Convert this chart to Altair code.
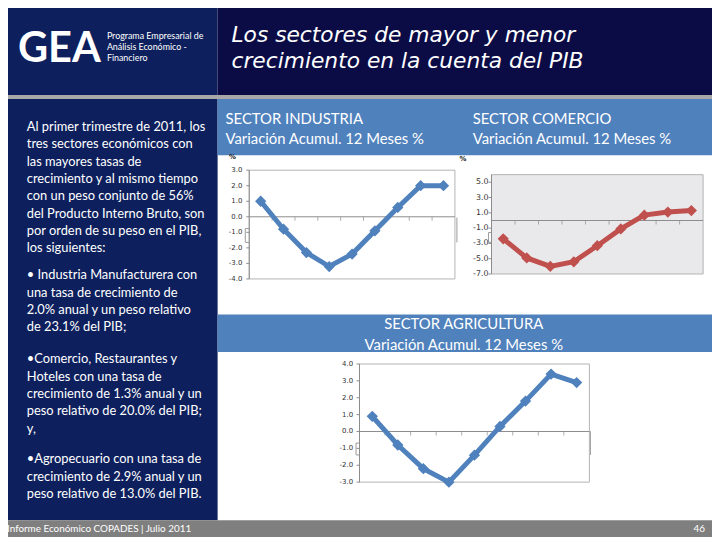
import altair as alt
import pandas as pd

# ---------------- data ----------------
industria = [1.0, -0.8, -2.3, -3.2, -2.4, -0.9, 0.6, 2.0, 2.0]
comercio = [-2.4, -4.9, -6.0, -5.4, -3.3, -1.1, 0.7, 1.1, 1.3]
agricultura = [0.9, -0.8, -2.2, -3.0, -1.4, 0.3, 1.8, 3.4, 2.9]

ticks_industria = [3.0, 2.0, 1.0, 0.0, -1.0, -2.0, -3.0, -4.0]
ticks_comercio = [5.0, 3.0, 1.0, -1.0, -3.0, -5.0, -7.0]
ticks_agricultura = [4.0, 3.0, 2.0, 1.0, 0.0, -1.0, -2.0, -3.0]

title_lines = ["Los sectores de mayor y menor", "crecimiento en la cuenta del PIB"]
logo_text = "GEA"
logo_sub = ["Programa Empresarial de", "Análisis Económico -", "Financiero"]
head_industria = ["SECTOR INDUSTRIA", "Variación Acumul. 12 Meses %"]
head_comercio = ["SECTOR COMERCIO", "Variación Acumul. 12 Meses %"]
head_agricultura = ["SECTOR AGRICULTURA", "Variación Acumul. 12 Meses %"]

para1 = ["Al primer trimestre de 2011, los", "tres sectores económicos con",
         "las mayores tasas de", "crecimiento y al mismo tiempo",
         "con un peso conjunto de 56%", "del Producto Interno Bruto, son",
         "por orden de su peso en el PIB,", "los siguientes:"]
para2 = ["• Industria Manufacturera con", "una tasa de crecimiento de",
         "2.0% anual y un peso relativo", "de 23.1% del PIB;"]
para3 = ["•Comercio, Restaurantes y", "Hoteles con una tasa de",
         "crecimiento de 1.3% anual y un", "peso relativo de 20.0% del PIB;", "y,"]
para4 = ["•Agropecuario con una tasa de", "crecimiento de 2.9% anual y un",
         "peso relativo de 13.0% del PIB."]
footer_left = "Informe Económico COPADES  |  Julio 2011"
footer_right = "46"

# ---------------- layout helpers (page coords -> chart coords) ----------------
MARGIN = 8
W, H = 720 - MARGIN, 540 - MARGIN


def P(x):
    return x - MARGIN


def Q(y):
    return y - MARGIN


ONE = pd.DataFrame({"d": [0]})

NAVY_L = "#0d1f5d"
NAVY_T = "#0b0c46"
BLUE = "#4f81bd"
RED = "#c0504d"


def box(x1, y1, x2, y2, fill, stroke=None, sw=1.0):
    kw = dict(fill=fill)
    if stroke:
        kw.update(stroke=stroke, strokeWidth=sw)
    return alt.Chart(ONE).mark_rect(**kw).encode(
        x=alt.value(P(x1)), x2=alt.value(P(x2)), y=alt.value(Q(y1)), y2=alt.value(Q(y2)))


def vrule(x, y1, y2, color, sw=1.0):
    return alt.Chart(ONE).mark_rule(color=color, strokeWidth=sw).encode(
        x=alt.value(P(x)), y=alt.value(Q(y1)), y2=alt.value(Q(y2)))


def hrule(x1, x2, y, color, sw=1.0):
    return alt.Chart(ONE).mark_rule(color=color, strokeWidth=sw).encode(
        x=alt.value(P(x1)), x2=alt.value(P(x2)), y=alt.value(Q(y)))


def txt(x, y, lines, size, color="white", font="Lato", align="left",
        weight="normal", style="normal", lh=None):
    kw = dict(align=align, baseline="alphabetic", font=font, fontSize=size,
              color=color, fontWeight=weight, fontStyle=style)
    if lh:
        kw["lineHeight"] = lh
    return alt.Chart(ONE).mark_text(**kw).encode(
        x=alt.value(P(x)), y=alt.value(Q(y)), text=alt.value(lines))


def mini(values, ticks, ydom, frame, color, fill, lab_x, lab_size):
    l, t, r, b = frame
    n = len(values)
    xs = alt.Scale(domain=[0, n], range=[P(l), P(r)], nice=False, zero=False)
    ys = alt.Scale(domain=ydom, range=[Q(b), Q(t)], nice=False, zero=False)
    d = pd.DataFrame({"pos": [i + 0.5 for i in range(n)], "v": values})
    dt = pd.DataFrame({"v": ticks, "lab": [f"{v:.1f}" for v in ticks]})
    dz = pd.DataFrame({"v": [0.0]})
    dxt = pd.DataFrame({"pos": list(range(1, n)), "v": [0.0] * (n - 1)})
    X = alt.X("pos:Q", scale=xs, axis=None)
    Y = alt.Y("v:Q", scale=ys, axis=None)
    return [
        box(l, t, r, b, fill=fill, stroke="#b3b3b3"),
        vrule(l, t, b, "#8c8c8c"),
        alt.Chart(dt).mark_rule(color="#8c8c8c").encode(
            x=alt.value(P(l) - 3), x2=alt.value(P(l)), y=Y),
        alt.Chart(dt).mark_text(align="right", baseline="middle", font="DejaVu Sans",
                                fontSize=lab_size, color="#333333").encode(
            x=alt.value(P(lab_x)), y=Y, text="lab:N"),
        alt.Chart(dz).mark_rule(color="#8c8c8c").encode(
            x=alt.value(P(l)), x2=alt.value(P(r)), y=Y),
        alt.Chart(dxt).mark_tick(orient="vertical", size=4, thickness=1, yOffset=2,
                                 color="#8c8c8c").encode(x=X, y=Y),
        alt.Chart(d).mark_line(color=color, strokeWidth=5).encode(x=X, y=Y),
        alt.Chart(d).mark_point(shape="diamond", filled=True, size=130, color=color,
                                opacity=1).encode(x=X, y=Y),
    ]


layers = []
# backgrounds
layers.append(box(0, 0, 220, 93, NAVY_L))
layers.append(box(220, 0, 720, 93, NAVY_T))
layers.append(box(0, 93, 720, 97, "#a8a8a8"))
layers.append(box(0, 97, 220, 523, NAVY_L))
layers.append(box(220, 97, 720, 154, BLUE))
layers.append(box(220, 315, 720, 353, BLUE))
layers.append(box(0, 523, 720, 540, "#7f7f7f"))

# leftover artefacts of the original slide
layers += [vrule(248, 228, 242, "#9a9a9a"), hrule(248, 252, 228, "#9a9a9a"), hrule(248, 252, 242, "#9a9a9a"),
           vrule(462, 217, 242, "#9a9a9a"),
           vrule(494, 232, 242, "#9a9a9a"), hrule(494, 497, 232, "#9a9a9a"), hrule(494, 497, 242, "#9a9a9a"),
           vrule(360, 445, 457, "#9a9a9a"), hrule(360, 363, 445, "#9a9a9a"), hrule(360, 363, 457, "#9a9a9a"),
           vrule(597, 433, 457, "#9a9a9a")]

# mini charts
layers += mini(industria, ticks_industria, [-4, 3], (252, 169, 460, 279), BLUE, "white", 245, 7)
layers += mini(comercio, ticks_comercio, [-7, 6], (497, 173.5, 711, 274), RED, "#e9e9ec", 494, 8)
layers += mini(agricultura, ticks_agricultura, [-3, 4], (363.5, 365, 596, 484.5), BLUE, "white", 357, 7)

# texts
layers.append(txt(18, 59.5, logo_text, 42, weight="bold"))
layers.append(txt(108, 36.5, logo_sub, 9, lh=11))
layers.append(txt(234, 39, title_lines, 22, font="DejaVu Sans", style="italic", lh=27))
layers.append(txt(228, 122, head_industria, 15, lh=21))
layers.append(txt(478, 122, head_comercio, 15, lh=21))
layers.append(txt(469, 330, head_agricultura, 15, align="center", lh=20.5))
layers.append(txt(235, 158, "%", 7, color="#222222", font="DejaVu Sans", align="center", weight="bold"))
layers.append(txt(468, 160, "%", 7, color="#222222", font="DejaVu Sans", align="center", weight="bold"))
layers.append(txt(27, 129.5, para1, 13, lh=17.5))
layers.append(txt(27, 279.5, para2, 13, lh=17.5))
layers.append(txt(27, 364.5, para3, 13, lh=17.5))
layers.append(txt(27, 465.5, para4, 13, lh=17.5))
layers.append(txt(7, 535, footer_left, 10))
layers.append(txt(713, 535, footer_right, 10, align="right"))

chart = alt.layer(*layers).resolve_scale(x="independent", y="independent").properties(
    width=W, height=H, padding=0,
    autosize=alt.AutoSizeParams(type="none"), background="white",
).configure_view(strokeWidth=0)

chart.save("out.html", embed_options={"renderer": "svg", "actions": False})
